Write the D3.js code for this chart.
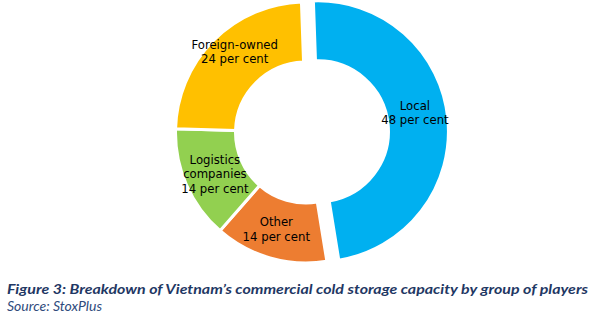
<html>
<head>
    <script src="https://d3js.org/d3.v7.min.js"></script>
    <style>
        body { margin: 0; background: #fff; }
    </style>
</head>

<body>
    <div id="cont"></div>

    <script>
        // data, clockwise from 12 o'clock
        var groups = ["Local", "Other", "Logistics companies", "Foreign-owned"];
        var shares = [48, 14, 14, 24];
        var labelLines = [
            ["Local", "48 per cent"],
            ["Other", "14 per cent"],
            ["Logistics", "companies", "14 per cent"],
            ["Foreign-owned", "24 per cent"]
        ];
        var colours = ["#00B0F0", "#ED7D31", "#92D050", "#FFC000"];
        var caption = "Figure 3: Breakdown of Vietnam\u2019s commercial cold storage capacity by group of players";
        var source = "Source: StoxPlus";

        var width = 600, height = 319;
        var cx = 306, cy = 132.5;
        var outerR = 130.5, innerR = 70.5;
        var explode = 12;
        var rot = -2 * Math.PI / 180;

        var svg = d3.select("#cont").append("svg")
            .attr("width", width)
            .attr("height", height);

        var pie = d3.pie()
            .sort(null)
            .startAngle(rot)
            .endAngle(rot + 2 * Math.PI)
            .value(function (d) { return d; });

        var arc = d3.arc()
            .innerRadius(innerR)
            .outerRadius(outerR);

        var slices = pie(shares);

        var offset = function (d, i) {
            // only the Local slice is pulled out
            if (i !== 0) return [0, 0];
            var a = (d.startAngle + d.endAngle) / 2;
            return [explode * Math.sin(a), -explode * Math.cos(a)];
        };

        var g = svg.append("g")
            .attr("transform", "translate(" + cx + "," + cy + ")");

        g.selectAll("path")
            .data(slices)
            .enter()
            .append("path")
            .attr("d", arc)
            .attr("transform", function (d, i) {
                var o = offset(d, i);
                return "translate(" + o[0] + "," + o[1] + ")";
            })
            .attr("fill", function (d, i) { return colours[i]; })
            .attr("stroke", "#fff")
            .attr("stroke-width", 3)
            .attr("stroke-linejoin", "miter");

        // Excel nudged the two big labels up a bit
        var nudge = [[-3, -9], [-2, 0], [1, 1], [0, -10]];
        var lineH = 14.5;

        var labels = g.selectAll("text.lbl")
            .data(slices)
            .enter()
            .append("text")
            .attr("class", "lbl")
            .attr("text-anchor", "middle")
            .style("font-family", "'DejaVu Sans Condensed', 'DejaVu Sans', sans-serif")
            .style("font-size", "13px")
            .attr("fill", "#000")
            .attr("transform", function (d, i) {
                var c = arc.centroid(d), o = offset(d, i);
                return "translate(" + (c[0] + o[0] + nudge[i][0]) + "," + (c[1] + o[1] + nudge[i][1]) + ")";
            });

        labels.each(function (d, i) {
            var lines = labelLines[i];
            var t = d3.select(this);
            var y0 = -(lines.length - 1) * lineH / 2 + 4.5;
            lines.forEach(function (s, k) {
                t.append("tspan")
                    .attr("x", 0)
                    .attr("y", y0 + k * lineH)
                    .text(s);
            });
        });

        svg.append("text")
            .attr("x", 7)
            .attr("y", 294)
            .attr("textLength", 581)
            .attr("lengthAdjust", "spacingAndGlyphs")
            .style("font-family", "Lato, 'Open Sans', sans-serif")
            .style("font-size", "14px")
            .style("font-weight", "bold")
            .style("font-style", "italic")
            .attr("fill", "#1F3864")
            .text(caption);

        svg.append("text")
            .attr("x", 7)
            .attr("y", 311)
            .attr("textLength", 95)
            .attr("lengthAdjust", "spacingAndGlyphs")
            .style("font-family", "Lato, 'Open Sans', sans-serif")
            .style("font-size", "14px")
            .style("font-style", "italic")
            .attr("fill", "#2F4B7C")
            .text(source);
    </script>
</body>
</html>
